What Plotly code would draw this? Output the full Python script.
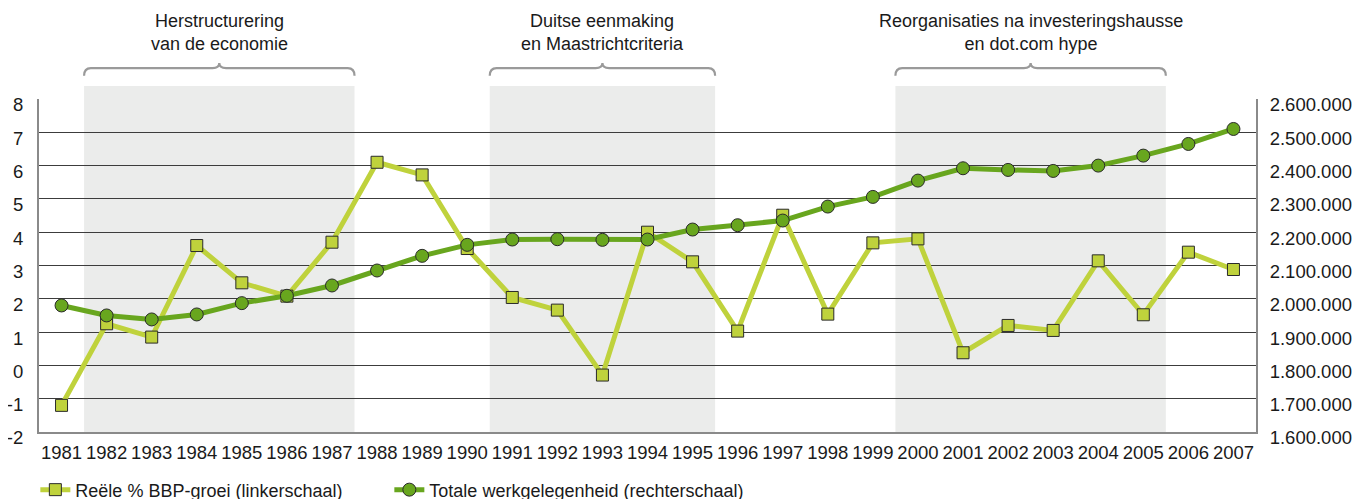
import plotly.graph_objects as go

years = list(range(1981, 2008))
gdp_growth = [-1.2, 1.25, 0.85, 3.6, 2.48, 2.08, 3.7, 6.1, 5.72, 3.51,
              2.04, 1.66, -0.29, 4.0, 3.11, 1.03, 4.51, 1.54, 3.68, 3.8,
              0.38, 1.2, 1.05, 3.14, 1.52, 3.4, 2.88]
employment = [1980000, 1950000, 1938000, 1953000, 1987000, 2009000, 2040000,
              2085000, 2129000, 2162000, 2178000, 2179000, 2177000, 2178000,
              2208000, 2221000, 2235000, 2277000, 2306000, 2355000, 2392000,
              2387000, 2384000, 2400000, 2430000, 2465000, 2510000]
left_ticks = [-2, -1, 0, 1, 2, 3, 4, 5, 6, 7, 8]
left_ticktext = ["-2", "-1", "0", "1", "2", "3", "4", "5", "6", "7", "8"]
right_ticks = [1600000 + 100000 * i for i in range(11)]
periods = [
    (1982, 1987, "Herstructurering<br>van de economie"),
    (1991, 1995, "Duitse eenmaking<br>en Maastrichtcriteria"),
    (2000, 2005, "Reorganisaties na investeringshausse<br>en dot.com hype"),
]
name_gdp = "Reële % BBP-groei (linkerschaal)"
name_emp = "Totale werkgelegenheid (rechterschaal)"

FONT = "Liberation Sans, Arial, sans-serif"
C_GDP = "#bfd23c"
C_EMP = "#68a61e"
GRID = "#3c3c3c"
AXIS = "#8a8a8a"
SHADE = "#ebeceb"
BRACE = "#9a9a9a"
TICK_SIZE = 18.5

fig = go.Figure()
fig.add_trace(go.Scatter(
    x=years, y=gdp_growth, name=name_gdp, mode="lines+markers",
    line=dict(color=C_GDP, width=5),
    marker=dict(symbol="square", size=12, color=C_GDP,
                line=dict(color="#2a2a2a", width=1)),
    yaxis="y", xaxis="x",
))
fig.add_trace(go.Scatter(
    x=years, y=employment, name=name_emp, mode="lines+markers",
    line=dict(color=C_EMP, width=5),
    marker=dict(symbol="circle", size=13, color=C_EMP,
                line=dict(color="#2a2a2a", width=1)),
    yaxis="y2", xaxis="x",
))

shapes = []
annotations = []
for start, end, label in periods:
    x0 = start - 0.5
    x1 = end + 0.5
    xm = (x0 + x1) / 2
    shapes.append(dict(type="rect", xref="x", yref="paper", x0=x0, x1=x1,
                       y0=0, y1=1.039, fillcolor=SHADE, line=dict(width=0),
                       layer="below"))
    r = 0.15
    yb, yt, ys = 1.070, 1.093, 1.108
    path = (f"M{x0},{yb} Q{x0},{yt} {x0 + r},{yt} L{xm - r},{yt} "
            f"Q{xm},{yt} {xm},{ys} Q{xm},{yt} {xm + r},{yt} "
            f"L{x1 - r},{yt} Q{x1},{yt} {x1},{yb}")
    shapes.append(dict(type="path", xref="x", yref="paper", path=path,
                       line=dict(color=BRACE, width=2.2)))
    annotations.append(dict(x=xm, y=1.128, xref="x", yref="paper",
                            text=label, showarrow=False, yanchor="bottom",
                            font=dict(family=FONT, size=18, color="#1a1a1a")))

fig.update_layout(
    width=1353, height=491,
    margin=dict(l=31, r=105, t=91, b=67, autoexpand=False),
    paper_bgcolor="white", plot_bgcolor="rgba(0,0,0,0)",
    font=dict(family=FONT, size=17, color="#1a1a1a"),
    shapes=shapes, annotations=annotations,
    showlegend=True,
    legend=dict(orientation="h", x=-0.003, xanchor="left", y=-0.174,
                yanchor="middle", font=dict(family=FONT, size=18),
                entrywidth=309, entrywidthmode="pixels",
                bgcolor="rgba(0,0,0,0)", traceorder="normal"),
    xaxis=dict(range=[1980.5, 2007.5], tickvals=years,
               ticktext=[str(y) for y in years], showgrid=False,
               showline=True, linecolor=AXIS, linewidth=2, ticks="",
               mirror=False, ticklabelstandoff=3, zeroline=False,
               tickfont=dict(size=TICK_SIZE)),
    xaxis2=dict(range=[1980.5, 2007.5], overlaying="x", anchor="free",
                position=0.2, side="bottom",
                tickvals=[y + 0.5 for y in years[:-1]] + [1980.5, 2007.5],
                ticks="inside", ticklen=8, tickwidth=1, tickcolor="#222",
                showticklabels=False, showgrid=False, showline=False,
                zeroline=False),
    yaxis=dict(range=[-2, 8], tickvals=left_ticks, ticktext=left_ticktext,
               showgrid=True, gridcolor=GRID, gridwidth=1,
               showline=True, linecolor=AXIS, linewidth=2, ticks="",
               zeroline=False, ticklabelstandoff=10, ticklabelshift=6,
               tickfont=dict(size=TICK_SIZE)),
    yaxis2=dict(range=[1600000, 2600000], tickvals=right_ticks,
                tickformat=",d", overlaying="y", side="right",
                showgrid=False, showline=True, linecolor=AXIS, linewidth=2,
                ticks="", zeroline=False, ticklabelstandoff=8,
                ticklabelshift=6, tickfont=dict(size=TICK_SIZE)),
    separators=",.",
)

fig.write_html("out.html")
